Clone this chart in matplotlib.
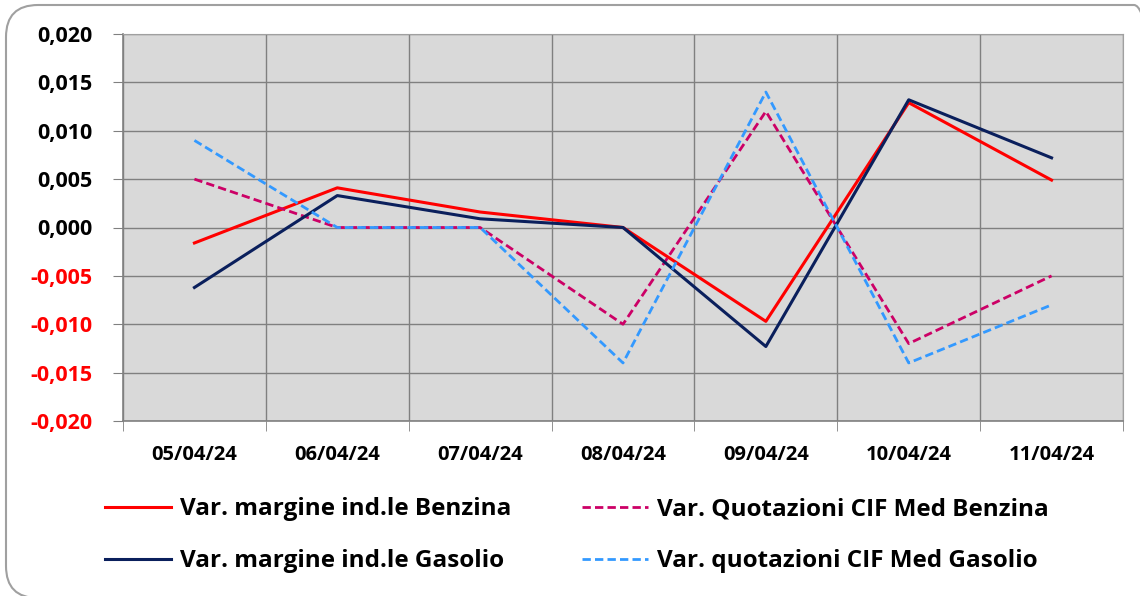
import numpy as np
import matplotlib.pyplot as plt
from matplotlib.patches import FancyBboxPatch

plt.rcParams['font.family'] = ['Open Sans', 'DejaVu Sans']

dates = ["05/04/24", "06/04/24", "07/04/24", "08/04/24", "09/04/24", "10/04/24", "11/04/24"]
margine_benzina = [-0.0016, 0.0041, 0.0016, 0.0000, -0.0097, 0.0129, 0.0049]
margine_gasolio = [-0.0062, 0.0033, 0.0009, 0.0000, -0.0123, 0.0132, 0.0072]
cif_benzina = [0.005, 0.000, 0.000, -0.010, 0.012, -0.012, -0.005]
cif_gasolio = [0.009, 0.000, 0.000, -0.014, 0.014, -0.014, -0.008]
yticks = [-0.020, -0.015, -0.010, -0.005, 0.000, 0.005, 0.010, 0.015, 0.020]

fig = plt.figure(figsize=(11.4, 5.96), dpi=100)
W, H = 1140, 596
# rounded frame (in inches), right and bottom edges run off the picture
frame = FancyBboxPatch((0.06, -0.02), 11.6, 5.93,
                       boxstyle="round,pad=0,rounding_size=0.32",
                       transform=fig.dpi_scale_trans, fill=False,
                       edgecolor='#a0a0a0', linewidth=1.5)
fig.patches.append(frame)

ax = fig.add_axes([123 / W, 1 - 421 / H, 1000 / W, 387 / H])
ax.set_facecolor('#d9d9d9')
x = np.arange(len(dates))

ax.plot(x, margine_benzina, color='#ff0000', lw=2.2, label="Var. margine ind.le Benzina")
ax.plot(x, cif_benzina, color='#cc0066', lw=2.0, ls=(0, (3, 1.5)), label="Var. Quotazioni CIF Med Benzina")
ax.plot(x, margine_gasolio, color='#0a1f5c', lw=2.2, label="Var. margine ind.le Gasolio")
ax.plot(x, cif_gasolio, color='#3399ff', lw=2.0, ls=(0, (3, 1.5)), label="Var. quotazioni CIF Med Gasolio")

ax.set_xlim(-0.5, len(dates) - 0.5)
ax.set_ylim(-0.020, 0.020)
ax.set_yticks(yticks)
ax.set_yticklabels([f"{v:.3f}".replace('.', ',') for v in yticks],
                   fontsize=15.5, fontweight='bold')
for lbl, v in zip(ax.get_yticklabels(), yticks):
    lbl.set_color('#ff0000' if v < 0 else 'black')

ax.set_xticks(x)
ax.set_xticklabels(dates, fontsize=14.5, fontweight='bold')
ax.set_xticks(np.arange(-0.5, len(dates)), minor=True)
ax.tick_params(axis='x', which='major', length=0, pad=17)
ax.tick_params(axis='x', which='minor', length=7, color='#808080')
ax.tick_params(axis='y', length=7, color='#808080', pad=15)
ax.grid(True, axis='y', color='#808080', lw=1)
ax.grid(True, axis='x', which='minor', color='#808080', lw=1)
ax.set_axisbelow(True)
for side in ['top', 'right']:
    ax.spines[side].set_color('#a0a0a0')
for side in ['left', 'bottom']:
    ax.spines[side].set_color('#808080')
    ax.spines[side].set_linewidth(1.2)

handles, labels = ax.get_legend_handles_labels()
order = [0, 2, 1, 3]
fig.legend([handles[i] for i in order], [labels[i] for i in order],
           ncol=2, loc='center left', bbox_to_anchor=(83 / W, 0.102), frameon=False,
           prop={'size': 17.5, 'weight': 'bold'}, handlelength=2.7,
           columnspacing=2.9, labelspacing=1.15, handletextpad=0.4)

fig.savefig("out.png", dpi=100)
